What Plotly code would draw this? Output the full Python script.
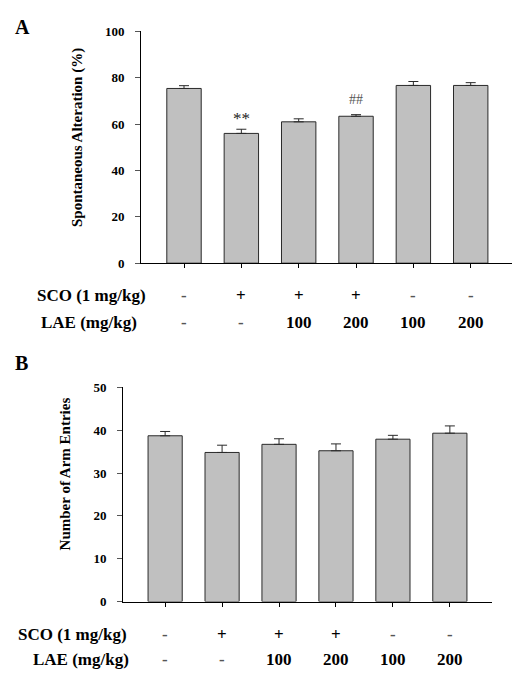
import plotly.graph_objects as go

W, H = 512, 676

groups = ["G1", "G2", "G3", "G4", "G5", "G6"]
sco_labels = ["-", "+", "+", "+", "-", "-"]
lae_labels = ["-", "-", "100", "200", "100", "200"]

alt_mean = [75.4, 56.0, 61.0, 63.4, 76.7, 76.7]
alt_sem = [1.2, 1.8, 1.3, 0.7, 1.7, 1.2]

arm_mean = [38.7, 34.8, 36.7, 35.2, 37.9, 39.3]
arm_sem = [1.0, 1.7, 1.3, 1.6, 0.9, 1.7]

yticks_a = [0, 20, 40, 60, 80, 100]
yticks_b = [0, 10, 20, 30, 40, 50]

SERIF = "Liberation Serif"
BAR_FILL = "#c0c0c0"
EDGE = "#2a2a2a"


def px(x):
    return x / W


def py(y):
    return 1 - y / H


xs = list(range(len(groups)))

fig = go.Figure()

fig.add_trace(go.Bar(
    x=xs, y=alt_mean, width=0.6,
    marker=dict(color=BAR_FILL, line=dict(color=EDGE, width=1)),
    error_y=dict(type="data", symmetric=False, array=alt_sem,
                 arrayminus=[0] * len(alt_sem), color=EDGE, thickness=1, width=5),
    xaxis="x", yaxis="y", showlegend=False,
))
fig.add_trace(go.Bar(
    x=xs, y=arm_mean, width=0.6,
    marker=dict(color=BAR_FILL, line=dict(color=EDGE, width=1)),
    error_y=dict(type="data", symmetric=False, array=arm_sem,
                 arrayminus=[0] * len(arm_sem), color=EDGE, thickness=1, width=5),
    xaxis="x2", yaxis="y2", showlegend=False,
))

common_x = dict(showline=True, linecolor="black", linewidth=1, ticks="outside",
                ticklen=4, tickcolor="black", tickvals=xs, showticklabels=False,
                showgrid=False, zeroline=False)
common_y = dict(showline=True, linecolor="black", linewidth=1, ticks="outside",
                ticklen=5, tickcolor="#555", showgrid=False, zeroline=False,
                tickfont=dict(family=SERIF, size=13, color="black", weight="bold"),
                ticklabelstandoff=8)

fig.update_layout(
    width=W, height=H, margin=dict(l=0, r=0, t=0, b=0),
    paper_bgcolor="white", plot_bgcolor="white",
    bargap=0.4,
    xaxis=dict(domain=[px(141), px(512)], range=[-0.75, 5.72], anchor="y", **common_x),
    yaxis=dict(domain=[py(262), py(25)], range=[0, 100], anchor="x",
               tickvals=yticks_a, **common_y),
    xaxis2=dict(domain=[px(123), px(492)], range=[-0.74, 5.74], anchor="y2", **common_x),
    yaxis2=dict(domain=[py(608), py(389)], range=[0, 50], anchor="x2",
                tickvals=yticks_b, **common_y),
)

ann = []
# panel letters
ann.append(dict(text="A", x=px(13), y=py(20), xref="paper", yref="paper",
                xanchor="left", yanchor="middle", showarrow=False,
                font=dict(family=SERIF, size=20, color="black", weight="bold")))
ann.append(dict(text="B", x=px(13), y=py(364), xref="paper", yref="paper",
                xanchor="left", yanchor="middle", showarrow=False,
                font=dict(family=SERIF, size=20, color="black", weight="bold")))
# y titles
ann.append(dict(text="Spontaneous Alteration (%)", x=px(77), y=py(134),
                xref="paper", yref="paper", textangle=-90, showarrow=False,
                xanchor="center", yanchor="middle",
                font=dict(family=SERIF, size=15, color="black", weight="bold")))
ann.append(dict(text="Number of Arm Entries", x=px(65), y=py(478),
                xref="paper", yref="paper", textangle=-90, showarrow=False,
                xanchor="center", yanchor="middle",
                font=dict(family=SERIF, size=15, color="black", weight="bold")))

rowfont = dict(family=SERIF, size=17, color="black", weight="bold")
dashfont = dict(family=SERIF, size=17, color="#555", weight="bold")
# rows under panel A
ann.append(dict(text="SCO (1 mg/kg)", x=px(91), y=py(295), xref="paper", yref="paper",
                showarrow=False, xanchor="center", yanchor="middle", font=rowfont))
ann.append(dict(text="LAE (mg/kg)", x=px(89), y=py(323), xref="paper", yref="paper",
                showarrow=False, xanchor="center", yanchor="middle", font=rowfont))
for i in xs:
    ann.append(dict(text=sco_labels[i], x=i, xref="x", y=py(295), yref="paper",
                    showarrow=False, xanchor="center", yanchor="middle",
                    font=dashfont if sco_labels[i] == "-" else rowfont))
    ann.append(dict(text=lae_labels[i], x=i, xref="x", y=py(323), yref="paper",
                    showarrow=False, xanchor="center", yanchor="middle",
                    font=dashfont if lae_labels[i] == "-" else rowfont))
# rows under panel B
ann.append(dict(text="SCO (1 mg/kg)", x=px(72), y=py(642), xref="paper", yref="paper",
                showarrow=False, xanchor="center", yanchor="middle", font=rowfont))
ann.append(dict(text="LAE (mg/kg)", x=px(81), y=py(667), xref="paper", yref="paper",
                showarrow=False, xanchor="center", yanchor="middle", font=rowfont))
for i in xs:
    ann.append(dict(text=sco_labels[i], x=i, xref="x2", y=py(642), yref="paper",
                    showarrow=False, xanchor="center", yanchor="middle",
                    font=dashfont if sco_labels[i] == "-" else rowfont))
    ann.append(dict(text=lae_labels[i], x=i, xref="x2", y=py(667), yref="paper",
                    showarrow=False, xanchor="center", yanchor="middle",
                    font=dashfont if lae_labels[i] == "-" else rowfont))

# significance markers
ann.append(dict(text="**", x=1, xref="x", y=alt_mean[1] + alt_sem[1], yref="y",
                yanchor="bottom", showarrow=False, yshift=-1,
                font=dict(family=SERIF, size=17, color="#222")))
ann.append(dict(text="##", x=3, xref="x", y=alt_mean[3] + alt_sem[3], yref="y",
                yanchor="bottom", showarrow=False, yshift=6,
                font=dict(family=SERIF, size=14, color="#555")))

fig.update_layout(annotations=ann)

fig.write_html("out.html",
               config={"displayModeBar": False},
               post_script="document.body.style.margin='0px';"
                           "document.body.style.overflow='hidden';")
